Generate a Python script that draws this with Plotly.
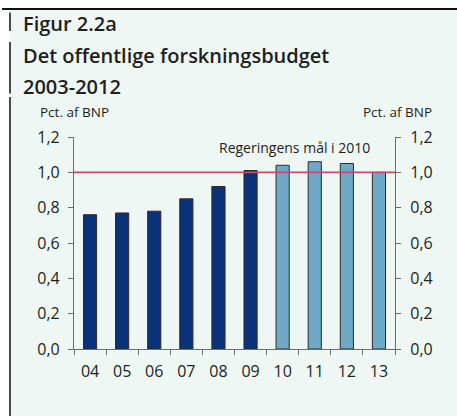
import plotly.graph_objects as go

years_hist = ["04", "05", "06", "07", "08", "09"]
vals_hist = [0.76, 0.77, 0.78, 0.85, 0.92, 1.01]
years_budget = ["10", "11", "12", "13"]
vals_budget = [1.04, 1.06, 1.05, 1.00]
categories = years_hist + years_budget
target = 1.0
y_ticks = [0.0, 0.2, 0.4, 0.6, 0.8, 1.0, 1.2]

W, H = 457, 416
L, R, T, B = 74, 62, 137, 67
PW, PH = W - L - R, H - T - B


def px(x):
    return (x - L) / PW


def py(y):
    return (H - B - y) / PH


FONT = "Open Sans"
TXT = "#231f20"
AX = "#6d6d6d"
MINT = "#eef7f3"

fig = go.Figure()
fig.add_trace(go.Bar(x=years_hist, y=vals_hist, width=0.41,
                     marker=dict(color="#0b3279", line=dict(color="#2b2b2b", width=1)),
                     yaxis="y", showlegend=False, hoverinfo="x+y"))
fig.add_trace(go.Bar(x=years_budget, y=vals_budget, width=0.41,
                     marker=dict(color="#6ea9c8", line=dict(color="#2b2b2b", width=1)),
                     yaxis="y2", showlegend=False, hoverinfo="x+y"))

axis_common = dict(range=[0, 1.2], tickvals=y_ticks, tickformat=".1f", showgrid=False,
                   zeroline=False, showline=True, linecolor=AX, linewidth=1.2,
                   ticks="outside", ticklen=5, tickcolor=AX, tickwidth=1.2,
                   tickfont=dict(family=FONT, size=16, color=TXT), fixedrange=True)

fig.update_layout(
    width=W, height=H,
    margin=dict(l=L, r=R, t=T, b=B, pad=0),
    paper_bgcolor=MINT, plot_bgcolor="rgba(0,0,0,0)",
    separators=",.",
    barmode="overlay",
    xaxis=dict(type="category", categoryorder="array", categoryarray=categories,
               range=[-0.5, len(categories) - 0.5], tickson="boundaries",
               showline=True, linecolor=AX, linewidth=1.2, ticks="outside", ticklen=5,
               tickcolor=AX, tickwidth=1.2, showgrid=False, zeroline=False,
               tickfont=dict(family=FONT, size=16, color=TXT), ticklabelstandoff=8,
               fixedrange=True),
    yaxis=dict(side="left", ticklabelstandoff=5, **axis_common),
    yaxis2=dict(side="right", overlaying="y", anchor="x", ticklabelstandoff=6, **axis_common),
    showlegend=False,
)

shapes = [
    dict(type="rect", xref="paper", yref="paper", x0=px(-5), x1=px(W + 5), y0=py(9), y1=py(-5),
         fillcolor="white", line=dict(width=0), layer="below"),
    dict(type="rect", xref="paper", yref="paper", x0=px(-5), x1=px(10), y0=py(H + 5), y1=py(-5),
         fillcolor="white", line=dict(width=0), layer="below"),
    dict(type="line", xref="paper", yref="paper", x0=px(2), x1=px(W + 5), y0=py(9), y1=py(9),
         line=dict(color="#111111", width=2)),
    dict(type="line", xref="paper", yref="paper", x0=px(10), x1=px(10), y0=py(12.5), y1=py(31),
         line=dict(color="#111111", width=1.5)),
    dict(type="line", xref="paper", yref="paper", x0=px(10), x1=px(10), y0=py(42), y1=py(93.5),
         line=dict(color="#111111", width=1.5)),
    dict(type="line", xref="paper", yref="paper", x0=px(10), x1=px(10), y0=py(97), y1=py(H + 5),
         line=dict(color="#111111", width=1.5)),
    dict(type="line", xref="paper", yref="y", x0=0, x1=1, y0=target, y1=target,
         line=dict(color="#c24b70", width=1.6), layer="above"),
]
fig.update_layout(shapes=shapes)

ann = [
    dict(text="Figur 2.2a", x=px(21), y=py(23), size=20, weight=600),
    dict(text="Det offentlige forskningsbudget", x=px(21), y=py(55), size=20, weight=600),
    dict(text="2003-2012", x=px(21), y=py(86), size=20, weight=600),
    dict(text="Pct. af BNP", x=px(37.5), y=py(111.5), size=13.5, weight=400),
]
annotations = [dict(text=a["text"], x=a["x"], y=a["y"], xref="paper", yref="paper",
                    xanchor="left", yanchor="middle", showarrow=False,
                    font=dict(family=FONT, size=a["size"], color=TXT, weight=a["weight"]))
               for a in ann]
annotations.append(dict(text="Pct. af BNP", x=px(434), y=py(111.5), xref="paper", yref="paper",
                        xanchor="right", yanchor="middle", showarrow=False,
                        font=dict(family=FONT, size=13.5, color=TXT)))
annotations.append(dict(text="Regeringens mål i 2010", x=px(294), y=py(147), xref="paper",
                        yref="paper", xanchor="center", yanchor="middle", showarrow=False,
                        font=dict(family=FONT, size=14, color=TXT)))
fig.update_layout(annotations=annotations)

fig.write_html("out.html", config={"displayModeBar": False},
               post_script="document.body.style.margin='0';document.body.style.padding='0';")
